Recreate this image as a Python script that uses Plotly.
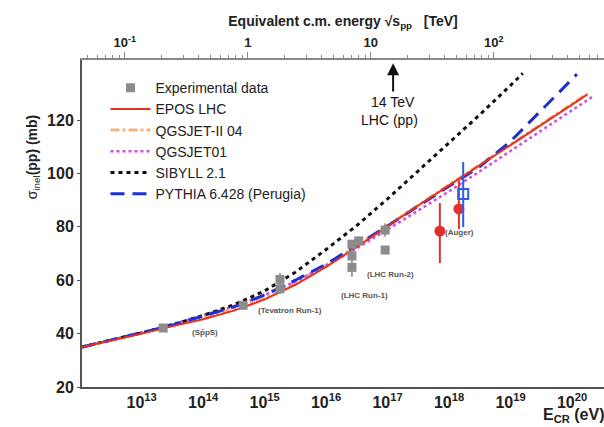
import plotly.graph_objects as go

# ---------------- data (log10 of E_CR in eV, sigma_inel in mb) ----------------
epos_logE = [12.03, 12.5, 13.0, 13.5, 14.0, 14.5, 15.0, 15.5, 16.0, 16.5, 17.0, 17.5, 18.0, 18.5, 19.0, 19.5, 20.0, 20.25]
epos_sig = [35.0, 37.3, 40.0, 42.8, 45.4, 48.6, 52.8, 58.3, 65.0, 72.5, 80.3, 88.0, 95.5, 103.0, 110.6, 118.2, 125.8, 129.6]

qgsII_logE = [12.03, 12.5, 13.0, 13.5, 14.0, 14.5, 15.0, 15.5, 16.0, 16.5, 17.0, 17.5, 18.0, 18.5, 19.0, 19.5, 20.0, 20.25]
qgsII_sig = [35.0, 37.4, 40.2, 43.0, 46.0, 49.4, 53.8, 59.2, 65.6, 72.9, 80.6, 88.3, 95.8, 103.3, 110.9, 118.5, 126.1, 129.9]

qgs01_logE = [12.03, 12.5, 13.0, 13.5, 14.0, 14.5, 15.0, 15.5, 16.0, 16.5, 17.0, 17.5, 18.0, 18.5, 19.0, 19.5, 20.0, 20.35]
qgs01_sig = [35.0, 37.6, 40.5, 43.5, 46.8, 50.3, 54.5, 59.5, 65.5, 72.0, 79.0, 86.0, 93.3, 100.8, 108.4, 116.0, 123.8, 129.0]

sib_logE = [12.03, 12.5, 13.0, 13.5, 14.0, 14.5, 15.0, 15.5, 16.0, 16.5, 17.0, 17.5, 18.0, 18.5, 19.0, 19.2]
sib_sig = [35.0, 37.5, 40.3, 43.3, 46.8, 50.8, 56.0, 63.0, 71.5, 80.5, 90.5, 101.0, 111.5, 122.0, 133.0, 137.5]

pyth_logE = [12.03, 12.5, 13.0, 13.5, 14.0, 14.5, 15.0, 15.5, 16.0, 16.5, 17.0, 17.5, 18.0, 18.5, 19.0, 19.5, 20.0, 20.08]
pyth_sig = [35.0, 37.5, 40.3, 43.2, 46.5, 50.0, 54.5, 60.0, 66.0, 73.0, 80.3, 87.8, 95.3, 102.6, 112.0, 123.6, 135.4, 137.2]

# accelerator data (grey squares)
acc_logE = [13.35, 14.65, 15.25, 15.25, 16.42, 16.42, 16.42, 16.53, 16.96, 16.96]
acc_sig = [42.1, 50.6, 60.3, 56.8, 73.5, 69.1, 64.8, 74.7, 78.8, 71.3]
acc_err = [1.5, 1.5, 2.4, 2.0, 1.5, 2.4, 3.5, 1.7, 2.5, 1.5]

# Auger (red circles)
aug_logE = [17.85, 18.16]
aug_sig = [78.4, 86.7]
aug_err_up = [10.5, 10.8]
aug_err_dn = [12.0, 7.5]

# Auger-derived (blue open square)
augb_logE = [18.23]
augb_sig = [92.3]
augb_err_up = [12.0]
augb_err_dn = [12.4]

bottom_ticks = [13, 14, 15, 16, 17, 18, 19, 20]
top_tickvals = [0.1, 1, 10, 100]
top_ticktext = ["10<sup>-1</sup>", "1", "10", "10<sup>2</sup>"]
y_ticks = [20, 40, 60, 80, 100, 120]

labels = [("(Sp\u0304pS)", 14.03, 40.6), ("(Tevatron Run-1)", 15.41, 48.5),
          ("(LHC Run-1)", 16.62, 54.1), ("(LHC Run-2)", 17.04, 62.3), ("(Auger)", 18.17, 77.7)]

# ---------------- figure ----------------
X_RANGE = [12.03, 20.52]
LOG_2MP = 9.27337  # log10(2 m_p) in eV


def E(lst):
    return [10.0 ** v for v in lst]


fig = go.Figure()

fig.add_trace(go.Scatter(x=E(qgsII_logE), y=qgsII_sig, mode="lines", name="QGSJET-II 04",
                         line=dict(color="#f3b27c", width=3, dash="dashdot"), legendrank=3))
fig.add_trace(go.Scatter(x=E(qgs01_logE), y=qgs01_sig, mode="lines", name="QGSJET01",
                         line=dict(color="#d24fd8", width=2.5, dash="dot"), legendrank=4))
fig.add_trace(go.Scatter(x=E(sib_logE), y=sib_sig, mode="lines", name="SIBYLL 2.1",
                         line=dict(color="#111111", width=3, dash="4px,4px"), legendrank=5))
fig.add_trace(go.Scatter(x=E(pyth_logE), y=pyth_sig, mode="lines", name="PYTHIA 6.428 (Perugia)",
                         line=dict(color="#1f2fd2", width=3, dash="14px,8px"), legendrank=6))
fig.add_trace(go.Scatter(x=E(epos_logE), y=epos_sig, mode="lines", name="EPOS LHC",
                         line=dict(color="#e8301f", width=2), legendrank=2))

fig.add_trace(go.Scatter(x=E(acc_logE), y=acc_sig, mode="markers", name="Experimental data",
                         marker=dict(symbol="square", size=9, color="#8c8c8c"),
                         error_y=dict(type="data", array=acc_err, color="#9a9a9a", thickness=2, width=0),
                         legendrank=1))
fig.add_trace(go.Scatter(x=E(aug_logE), y=aug_sig, mode="markers", showlegend=False,
                         marker=dict(symbol="circle", size=11, color="#e0302a"),
                         error_y=dict(type="data", array=aug_err_up, arrayminus=aug_err_dn,
                                      color="#e0302a", thickness=2, width=0)))
fig.add_trace(go.Scatter(x=E(augb_logE), y=augb_sig, mode="markers", showlegend=False,
                         marker=dict(symbol="square-open", size=10, color="#2a5ee8", line=dict(width=2)),
                         error_y=dict(type="data", array=augb_err_up, arrayminus=augb_err_dn,
                                      color="#2a5ee8", thickness=2, width=0)))

# dummy trace to activate the top axis
fig.add_trace(go.Scatter(x=[1.0], y=[None], xaxis="x2", showlegend=False, hoverinfo="skip"))

for txt, lx, ly in labels:
    fig.add_annotation(x=lx, y=ly, text="<b>" + txt + "</b>", showarrow=False,
                       font=dict(size=8, color="#555555", family="Liberation Sans"))

# 14 TeV arrow
fig.add_annotation(x=17.09, y=141.3, ax=17.09, ay=130.1, axref="x", ayref="y", xref="x", yref="y",
                   text="", showarrow=True, arrowhead=2, arrowsize=1.2, arrowwidth=2, arrowcolor="#111")
fig.add_annotation(x=17.09, y=126.7, text="14 TeV", showarrow=False,
                   font=dict(size=14, color="#111", family="Liberation Sans"))
fig.add_annotation(x=17.03, y=120.0, text="LHC (pp)", showarrow=False,
                   font=dict(size=14, color="#111", family="Liberation Sans"))

# x-axis label bottom right
fig.add_annotation(xref="paper", yref="paper", x=1.005, y=-0.088, xanchor="right", yanchor="middle",
                   text="<b>E<sub>CR</sub> (eV)</b>", showarrow=False,
                   font=dict(size=16, color="#222", family="Liberation Sans"))

# y-axis title (placed high on the left like the reference)
fig.add_annotation(xref="paper", yref="paper", x=-0.116, y=0.84, textangle=-90,
                   text="\u03c3<sub>inel</sub><b>(pp) (mb)</b>", showarrow=False,
                   font=dict(size=14, color="#222", family="Liberation Sans"))

top_range = [(X_RANGE[0] + LOG_2MP) / 2 - 12, (X_RANGE[1] + LOG_2MP) / 2 - 12]
minor_top = [m * 10.0 ** d for d in range(-2, 3) for m in range(2, 10)]

fig.update_layout(
    width=604, height=427,
    margin=dict(l=82, r=0, t=60, b=40),
    paper_bgcolor="white", plot_bgcolor="white",
    font=dict(family="Liberation Sans", color="#222"),
    showlegend=True,
    legend=dict(x=0.045, y=0.963, xanchor="left", yanchor="top", bgcolor="rgba(0,0,0,0)",
                font=dict(size=14, color="#222"), itemwidth=40, tracegroupgap=0),
    xaxis=dict(type="log", range=X_RANGE, showgrid=False, zeroline=False,
               showline=True, linecolor="#555", linewidth=2, ticks="",
               tickvals=[10.0 ** t for t in bottom_ticks],
               ticktext=["10<sup>%d</sup>" % t for t in bottom_ticks],
               tickfont=dict(size=16, color="#222", weight="bold")),
    xaxis2=dict(type="log", range=top_range, overlaying="x", side="top", anchor="y",
                showgrid=False, zeroline=False, showline=True, linecolor="#888", linewidth=1.5,
                ticks="outside", ticklen=6, tickcolor="#888",
                tickvals=top_tickvals, ticktext=top_ticktext,
                tickfont=dict(size=13, color="#222", weight="bold"),
                minor=dict(ticks="outside", ticklen=3, tickcolor="#888", tickvals=minor_top),
                title=dict(text="<b>Equivalent c.m. energy \u221as<sub>pp</sub>   [TeV]</b>",
                           font=dict(size=14, color="#222"), standoff=4)),
    yaxis=dict(range=[20, 142.5], showgrid=False, zeroline=False, showline=True,
               linecolor="#555", linewidth=2, ticks="outside", ticklen=3, tickcolor="#555",
               tickvals=y_ticks, tickfont=dict(size=16, color="#222", weight="bold")),
)

fig.write_html("out.html")
